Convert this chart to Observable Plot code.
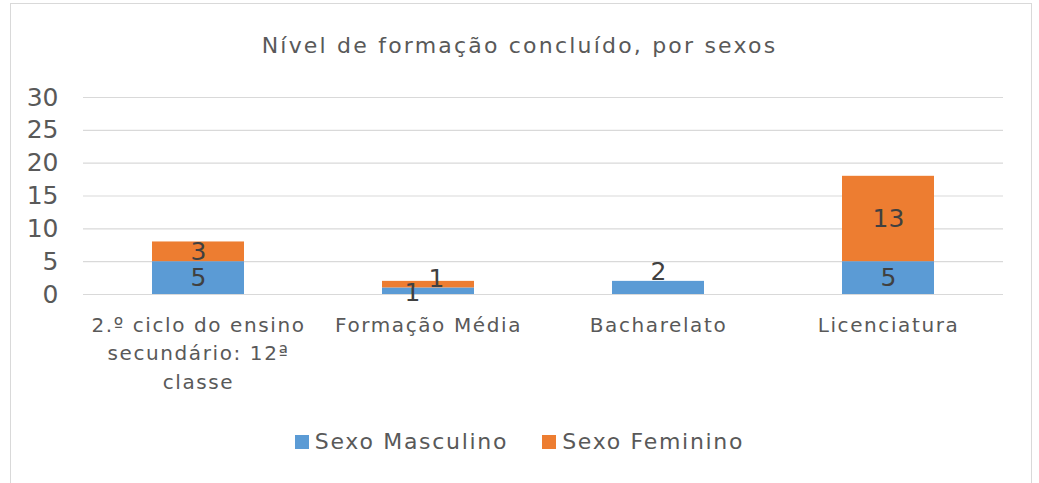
<!DOCTYPE html>
<html>
<head>
<meta charset="utf-8">
<script src="https://cdn.jsdelivr.net/npm/d3@7"></script>
<script src="https://cdn.jsdelivr.net/npm/@observablehq/plot@0.6"></script>
<style>
  body { margin: 0; background: #fff; font-family: "DejaVu Sans", sans-serif; }
  #wrap { position: relative; width: 1039px; height: 483px; overflow: hidden; }
  #frame { position: absolute; left: 10px; top: 3px; width: 1022px; height: 490px; border: 1px solid #d9d9d9; box-sizing: border-box; }
  #title { position: absolute; left: 0; top: 32px; width: 1039px; text-align: center; font-size: 22px; line-height: 28px; color: #595959; letter-spacing: 2.2px; }
  #chart { position: absolute; left: 0; top: 0; }
  #legend { position: absolute; left: 0; top: 428px; width: 1039px; display: flex; justify-content: center; gap: 34px; font-size: 22px; color: #595959; line-height: 28px; letter-spacing: 1.7px; }
  .item { display: flex; align-items: center; gap: 6px; }
  .sw { width: 14px; height: 14px; display: inline-block; }
</style>
</head>
<body>
<div id="wrap">
  <div id="frame"></div>
  <div id="chart"></div>
  <div id="title"></div>
  <div id="legend"></div>
</div>
<script>
const titleText = "Nível de formação concluído, por sexos";
const categories = ["2.º ciclo do ensino secundário: 12ª classe", "Formação Média", "Bacharelato", "Licenciatura"];
const categoryLabels = ["2.º ciclo do ensino\nsecundário: 12ª\nclasse", "Formação Média", "Bacharelato", "Licenciatura"];
const series = ["Sexo Masculino", "Sexo Feminino"];
const masculino = [5, 1, 2, 5];
const feminino = [3, 1, 0, 13];
const colors = ["#5B9BD5", "#ED7D31"];
const yTicks = [0, 5, 10, 15, 20, 25, 30];

const data = [];
categories.forEach((c, i) => {
  data.push({category: c, series: series[0], value: masculino[i]});
  data.push({category: c, series: series[1], value: feminino[i]});
});

document.getElementById("title").textContent = titleText;

const labelFor = new Map(categories.map((c, i) => [c, categoryLabels[i]]));
const special = (d) => d.category === "Formação Média" || d.category === "Bacharelato";
const stackOpts = (text) => Plot.stackY({x: "category", y: "value", z: "series", order: null, text});

const chart = Plot.plot({
  width: 1039,
  height: 420,
  marginLeft: 83,
  marginRight: 36,
  marginTop: 97,
  marginBottom: 126,
  style: {fontFamily: "DejaVu Sans, sans-serif", color: "#595959", background: "transparent"},
  x: {domain: categories, paddingInner: 0.6, paddingOuter: 0.3, label: null},
  y: {domain: [0, 30], label: null},
  color: {domain: series, range: colors},
  marks: [
    Plot.gridY(yTicks, {stroke: "#d9d9d9", strokeOpacity: 1, strokeWidth: 1.2}),
    Plot.barY(data, {x: "category", y: "value", fill: "series", order: null, z: "series"}),
    Plot.text(data, {...stackOpts(d => (!special(d) && d.value > 0) ? String(d.value) : ""), fill: "#404040", fontSize: 25}),
    Plot.text(data, {...stackOpts(d => (d.category === "Formação Média" && d.series === series[0]) ? String(d.value) : ""), fill: "#404040", fontSize: 25, dx: -16, dy: 2}),
    Plot.text(data, {...stackOpts(d => (d.category === "Formação Média" && d.series === series[1]) ? String(d.value) : ""), fill: "#404040", fontSize: 25, dx: 8, dy: -6}),
    Plot.text(data, {...stackOpts(d => (d.category === "Bacharelato" && d.series === series[0]) ? String(d.value) : ""), fill: "#404040", fontSize: 25, dy: -16}),
    Plot.axisY({ticks: yTicks, tickSize: 0, tickPadding: 25, fontSize: 25, fill: "#595959"}),
    Plot.axisX({tickSize: 0, tickPadding: 17, fontSize: 20, lineHeight: 1.43, fill: "#595959", tickFormat: d => labelFor.get(d)})
  ]
});
chart.querySelectorAll('g[aria-label="x-axis tick label"] text').forEach(t => t.style.letterSpacing = "1.6px");
document.getElementById("chart").appendChild(chart);

const legend = document.getElementById("legend");
series.forEach((s, i) => {
  const item = document.createElement("div");
  item.className = "item";
  const sw = document.createElement("span");
  sw.className = "sw";
  sw.style.background = colors[i];
  const t = document.createElement("span");
  t.textContent = s;
  item.appendChild(sw);
  item.appendChild(t);
  legend.appendChild(item);
});
</script>
</body>
</html>
